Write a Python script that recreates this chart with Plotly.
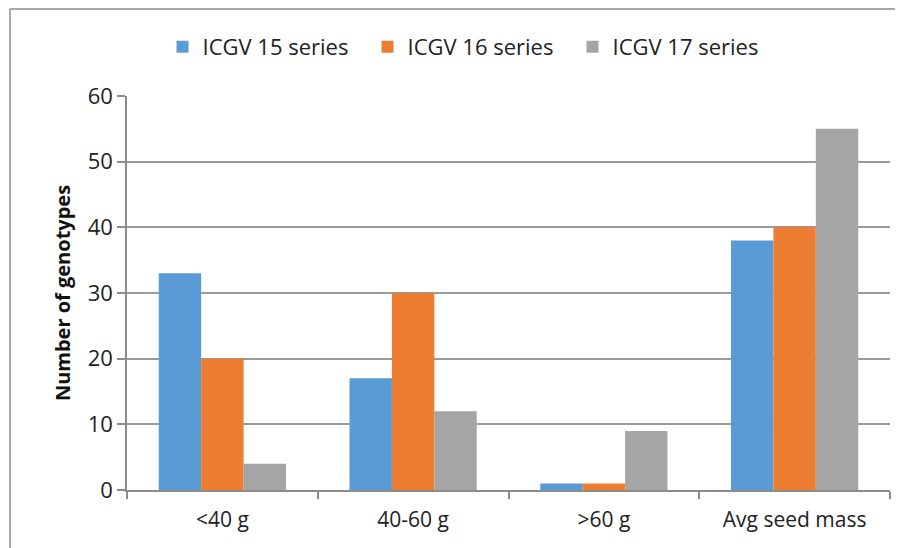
import plotly.graph_objects as go

categories = ["<40 g", "40-60 g", ">60 g", "Avg seed mass"]
series_names = ["ICGV 15 series", "ICGV 16 series", "ICGV 17 series"]
icgv15 = [33, 17, 1, 38]
icgv16 = [20, 30, 1, 40]
icgv17 = [4, 12, 9, 55]
colors = ["#5B9BD5", "#ED7D31", "#A5A5A5"]
y_ticks = [0, 10, 20, 30, 40, 50, 60]

FONT = "Open Sans"
OFF = 8  # page body margin

fig = go.Figure()
for name, vals, col in zip(series_names, [icgv15, icgv16, icgv17], colors):
    fig.add_trace(go.Bar(x=categories, y=vals, name=name, marker=dict(color=col, line=dict(width=0))))

W, H = 903 - OFF, 548 - OFF
L, R, T, B = 127 - OFF, 13, 96 - OFF, 58
pw, ph = W - L - R, H - T - B

def px(x):  # screen x -> paper
    return (x - OFF - L) / pw

def py(y):  # screen y -> paper
    return (H - B - (y - OFF)) / ph

fig.update_layout(
    width=W, height=H,
    margin=dict(l=L, r=R, t=T, b=B),
    paper_bgcolor="white", plot_bgcolor="white",
    barmode="group", bargap=0.333, bargroupgap=0,
    font=dict(family=FONT, size=21, color="#222"),
    legend=dict(orientation="h", x=px(470), xref="paper", xanchor="center", y=py(47), yanchor="middle",
                font=dict(size=22, color="#222"), itemwidth=30, traceorder="normal",
                entrywidth=160, entrywidthmode="pixels",
                tracegroupgap=0, bgcolor="rgba(0,0,0,0)"),
    showlegend=True,
    xaxis=dict(showline=True, linecolor="#8c8c8c", linewidth=1.5, ticks="outside",
               tickson="boundaries", ticklen=7, tickcolor="#8c8c8c", tickwidth=1.5,
               showgrid=False, tickfont=dict(size=21, color="#222"), ticklabelstandoff=10),
    yaxis=dict(range=[0, 60], tickvals=y_ticks, showline=True, linecolor="#8c8c8c", linewidth=1.5,
               ticks="outside", ticklen=8, tickcolor="#8c8c8c", tickwidth=1.5,
               showgrid=True, gridcolor="#9a9a9a", gridwidth=1.5, zeroline=False,
               tickfont=dict(size=22, color="#222"),
               title=dict(text="<b>Number of genotypes</b>", font=dict(size=20, color="#111"), standoff=12)),
)

# outer frame (left and top edges visible)
fig.add_shape(type="line", xref="paper", yref="paper", x0=px(10), x1=px(903), y0=py(9), y1=py(9),
              line=dict(color="#8c8c8c", width=1.5))
fig.add_shape(type="line", xref="paper", yref="paper", x0=px(10), x1=px(10), y0=py(9), y1=py(548),
              line=dict(color="#8c8c8c", width=1.5))

fig.write_html("out.html")
